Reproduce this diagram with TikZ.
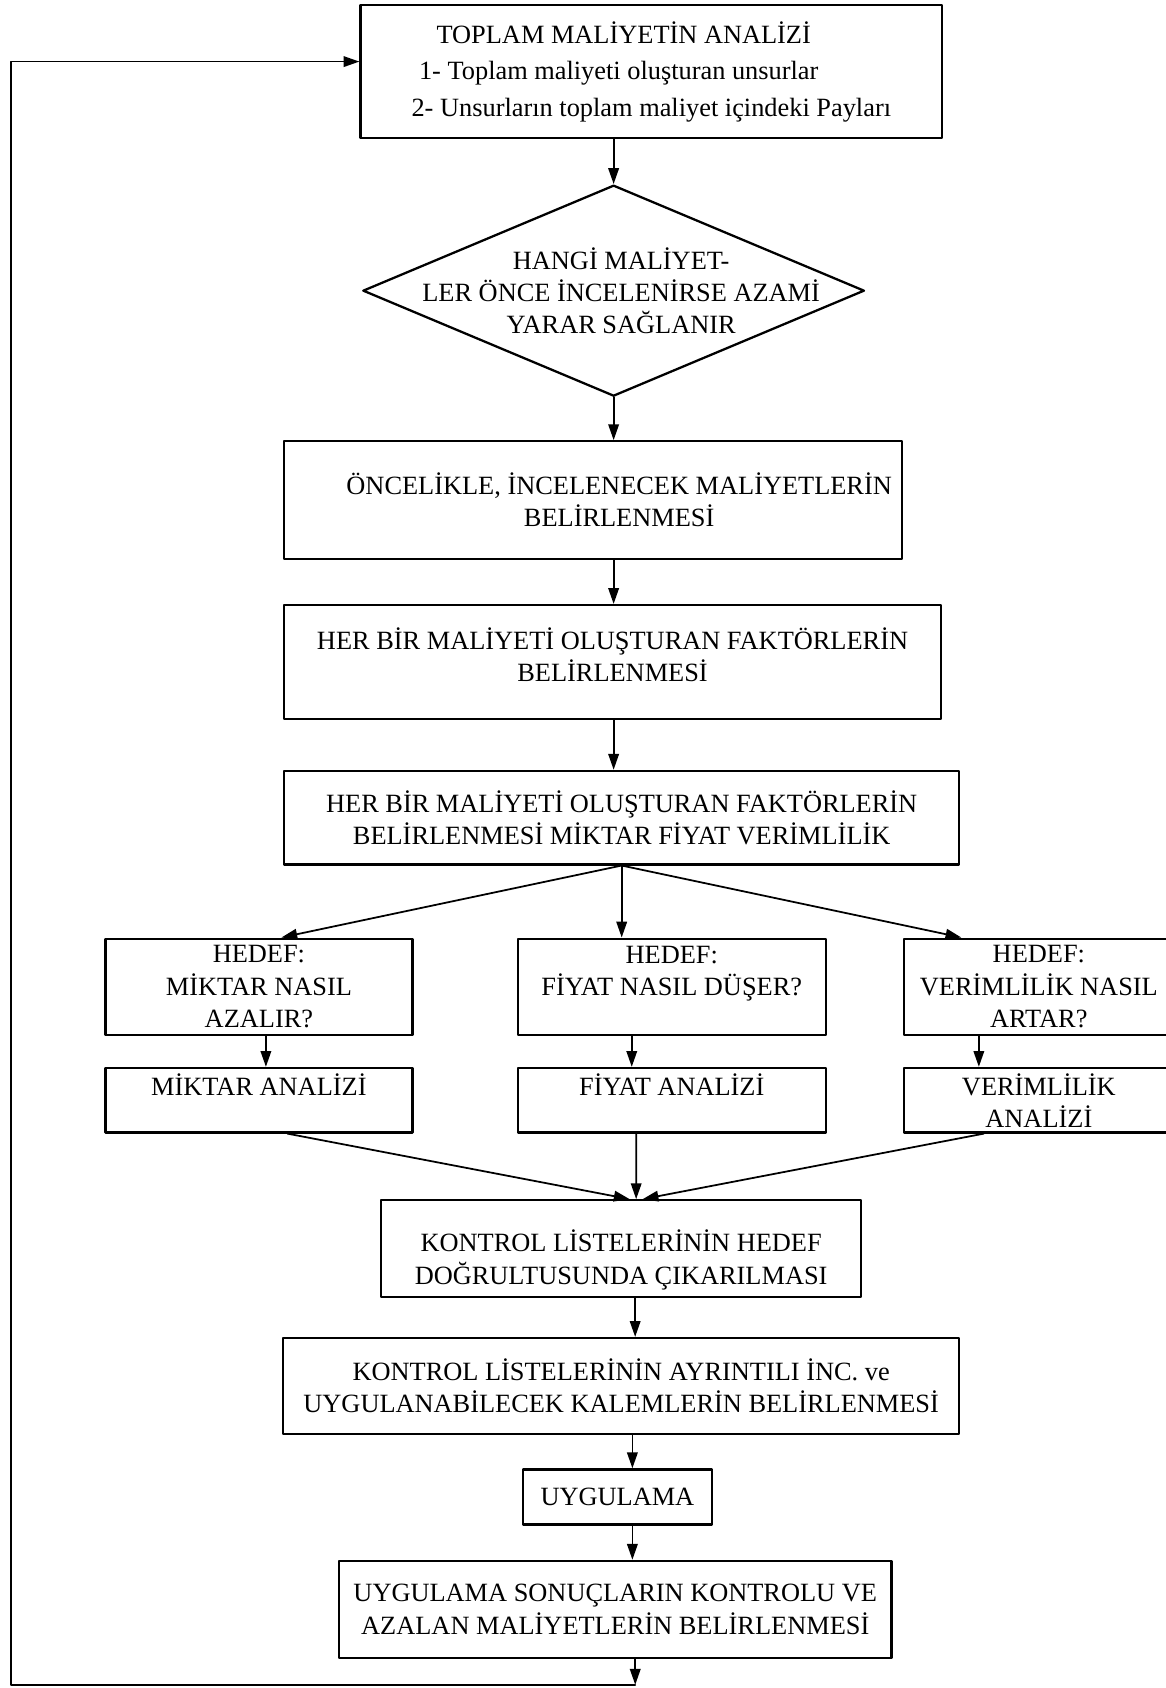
\documentclass[tikz,border=0pt]{standalone}
\usepackage{fontspec}
\setmainfont{Liberation Serif}
\usetikzlibrary{arrows.meta,shapes.geometric,positioning}

\begin{document}
\begin{tikzpicture}[x=0.021532cm, y=-0.021532cm, line join = round, line cap = round,
    box/.style={draw, line width=1.3pt, align=center, inner sep=0pt, font=\fontsize{15}{18.3}\selectfont},
    decision/.style={draw, diamond, line width=1.3pt, inner sep=0pt, minimum width=10.03cm, minimum height=4.22cm},
    flow/.style={line width=1pt, -{Triangle[length=9pt,width=6pt]}}]

                  \useasboundingbox (0,0) rectangle (1083,1568);
                  \clip (0,0) rectangle (1083,1568);

                  % analysis of the total cost
                  \node[box, align=left, minimum width=11.63cm, minimum height=2.65cm] (top) at (605,66.5)
                    {\hspace*{0.5cm}TOPLAM MALİYETİN ANALİZİ\\[2.5pt]
                     \hspace*{0.15cm}1- Toplam maliyeti oluşturan unsurlar\\[2.5pt]
                     2- Unsurların toplam maliyet içindeki Payları};

                  % decision
                  \node[decision, label={[box, draw=none, xshift=0.15cm]center:HANGİ MALİYET-\\LER ÖNCE İNCELENİRSE AZAMİ\\YARAR SAĞLANIR}] (dia) at (570,270) {};

                  \node[box, minimum width=12.36cm, minimum height=2.35cm] (sel) at (551,464.5)
                    {\hspace*{1.04cm}ÖNCELİKLE, İNCELENECEK MALİYETLERİN\\\hspace*{1.04cm}BELİRLENMESİ};
                  \node[box, minimum width=13.13cm, minimum height=2.28cm] (fac) at (569,615)
                    {HER BİR MALİYETİ OLUŞTURAN FAKTÖRLERİN\\BELİRLENMESİ\rule[-8.5pt]{0pt}{8.5pt}};
                  \node[box, minimum width=13.50cm, minimum height=1.87cm] (fac2) at (577.5,759.5)
                    {HER BİR MALİYETİ OLUŞTURAN FAKTÖRLERİN\\BELİRLENMESİ MİKTAR FİYAT VERİMLİLİK};

                  % three targets
                  \node[box, minimum width=6.14cm, minimum height=1.92cm] (h1) at (240.5,916.5) {HEDEF:\\MİKTAR NASIL\\AZALIR?};
                  \node[box, minimum width=6.16cm, minimum height=1.92cm] (h2) at (624,916.5) {HEDEF:\\FİYAT NASIL DÜŞER?\\\mbox{}};
                  \node[box, minimum width=5.38cm, minimum height=1.92cm] (h3) at (965,916.5) {HEDEF:\\VERİMLİLİK NASIL\\ARTAR?};

                  \node[box, minimum width=6.14cm, minimum height=1.29cm] (a1) at (240.5,1022) {MİKTAR ANALİZİ\\\mbox{}};
                  \node[box, minimum width=6.16cm, minimum height=1.29cm] (a2) at (624,1022) {FİYAT ANALİZİ\\\mbox{}};
                  \node[box, minimum width=5.38cm, minimum height=1.29cm] (a3) at (965,1022) {VERİMLİLİK\\ANALİZİ};

                  % check lists and application
                  \node[box, minimum width=9.60cm, minimum height=1.94cm] (k1) at (577,1160)
                    {\rule{0pt}{25pt}KONTROL LİSTELERİNİN HEDEF\\DOĞRULTUSUNDA ÇIKARILMASI};
                  \node[box, minimum width=13.52cm, minimum height=1.92cm] (k2) at (577,1287.5)
                    {KONTROL LİSTELERİNİN AYRINTILI İNC. ve\\UYGULANABİLECEK KALEMLERİN BELİRLENMESİ};
                  \node[box, minimum width=3.77cm, minimum height=1.10cm] (uyg) at (573.5,1390.5) {UYGULAMA};
                  \node[box, minimum width=11.05cm, minimum height=1.94cm] (son) at (571.5,1495)
                    {UYGULAMA SONUÇLARIN KONTROLU VE\\AZALAN MALİYETLERİN BELİRLENMESİ};

                  \coordinate (rail) at (10,1565);

                  % main column
                  \draw[flow] (top.south -| dia.north) -- (dia.north);
                  \draw[flow] (dia.south) -- (dia.south |- sel.north);
                  \draw[flow] (sel.south -| dia.south) -- (fac.north -| dia.south);
                  \draw[flow] (fac.south -| dia.south) -- (fac2.north -| dia.south);

                  % split
                  \draw[flow] (fac2.south) -- ([xshift=0.45cm]h1.north);
                  \draw[flow] (fac2.south) -- (fac2.south |- h2.north);
                  \draw[flow] (fac2.south) -- ([xshift=-1.55cm]h3.north);
                  \draw[flow] ([xshift=0.14cm]h1.south) -- ([xshift=0.14cm]a1.north);
                  \draw[flow] ([xshift=-0.8cm]h2.south) -- ([xshift=-0.8cm]a2.north);
                  \draw[flow] ([xshift=-1.2cm]h3.south) -- ([xshift=-1.2cm]a3.north);

                  % merge
                  \draw[flow] ([xshift=0.57cm]a1.south) -- ([xshift=0.17cm]k1.north);
                  \draw[flow] ([xshift=-0.71cm]a2.south) -- ([xshift=0.3cm]k1.north);
                  \draw[flow] ([xshift=-1.1cm]a3.south) -- ([xshift=0.43cm]k1.north);

                  \draw[flow] ([xshift=0.28cm]k1.south) -- ([xshift=0.28cm]k1.south |- k2.north);
                  \draw[flow] ([xshift=0.3cm]uyg.north |- k2.south) -- ([xshift=0.3cm]uyg.north);
                  \draw[flow] ([xshift=0.3cm]uyg.south) -- ([xshift=0.3cm]uyg.south |- son.north);

                  % back to the start
                  \draw[flow] ([xshift=0.4cm]son.south) -- ([xshift=0.4cm]son.south |- rail);
                  \draw[flow] ([xshift=0.4cm]son.south |- rail) -- (rail) |- ([yshift=0.2cm]top.west);

\end{tikzpicture}
\end{document}
